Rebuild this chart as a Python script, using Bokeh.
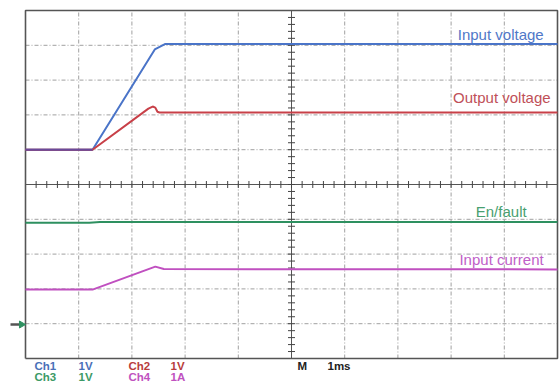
from bokeh.plotting import figure
from bokeh.models import Range1d
from bokeh.core.properties import value
from bokeh.embed import file_html
from bokeh.resources import INLINE

# ---- data (in screen divisions: x 0..10, y 0..10) ----
t_in = [0, 1.26, 2.43, 2.63, 10]
v_in = [6.0, 6.0, 8.88, 9.04, 9.04]

t_out = [0, 1.26, 2.31, 2.39, 2.44, 2.48, 2.52, 10]
v_out = [6.0, 6.0, 7.18, 7.24, 7.21, 7.09, 7.07, 7.07]

t_en = [0, 1.2, 1.4, 10]
v_en = [3.90, 3.90, 3.92, 3.92]

t_cur = [0, 1.26, 2.44, 2.6, 10]
v_cur = [1.98, 1.98, 2.64, 2.57, 2.56]

trace_names = ["Input voltage", "Output voltage", "En/fault", "Input current"]
name_x = [9.74, 9.87, 9.42, 9.74]
name_y = [9.31, 7.50, 4.22, 2.84]
name_colors = ["#5078c8", "#c05058", "#48a070", "#c060c8"]

ch_labels = ["Ch1", "1V", "Ch2", "1V", "Ch3", "1V", "Ch4", "1A", "M", "1ms"]
ch_colors = ["#4a70b8", "#4a70b8", "#b83c3c", "#b83c3c", "#3d9a66", "#3d9a66",
             "#c052c0", "#c052c0", "#222222", "#222222"]

DX = 53.2   # px per horizontal division
DY = 34.8   # px per vertical division
X0 = 25     # left frame px
Y0 = 358    # bottom frame px (from top)

def px_x(px):
    return (px - X0) / DX

def px_y(py):
    return (Y0 - py) / DY

p = figure(width=560, height=383, output_backend="svg", toolbar_location=None,
           x_range=Range1d(px_x(0), px_x(560)), y_range=Range1d(px_y(383), px_y(0)),
           x_axis_type=None, y_axis_type=None, min_border=0,
           outline_line_color=None, background_fill_color="white",
           border_fill_color="white")

# grid
grid_col = "#a0a0a0"
for i in range(1, 10):
    if i == 5:
        continue
    p.line([i, i], [0, 10], line_color=grid_col, line_width=1, line_dash="4 2 1 2")
    p.line([0, 10], [i, i], line_color=grid_col, line_width=1, line_dash="4 2 1 2")

# center cross with ticks
p.line([5, 5], [0, 10], line_color="#555555", line_width=1)
p.line([0, 10], [5, 5], line_color="#555555", line_width=1)
ks = [0.2 * k for k in range(1, 50)]
hx = 3.5 / DX
hy = 3.5 / DY
p.segment(x0=ks, y0=[5 - hy] * len(ks), x1=ks, y1=[5 + hy] * len(ks),
          line_color="#444444", line_width=1)
p.segment(x0=[5 - hx] * len(ks), y0=ks, x1=[5 + hx] * len(ks), y1=ks,
          line_color="#444444", line_width=1)

# frame
p.line([0, 10, 10, 0, 0], [0, 0, 10, 10, 0], line_color="#555555", line_width=1.6)

# traces
p.line(t_en, v_en, line_color="#2e9060", line_width=2)
p.line(t_cur, v_cur, line_color="#c050c0", line_width=2)
p.line(t_in, v_in, line_color="#4a74c8", line_width=2)
p.line(t_out, v_out, line_color="#c84048", line_width=2)
p.line([0, 1.26], [6.0, 6.0], line_color="#6a4a9a", line_width=2)

# ground marker
p.line([px_x(10), px_x(22)], [px_y(324), px_y(324)], line_color="#555555", line_width=2.5)
p.scatter([px_x(21)], [px_y(324)], marker="triangle", angle=-1.5708, size=7,
          fill_color="#2e9060", line_color="#2e9060")

# trace names
p.text(x=name_x, y=name_y, text=trace_names, text_color=name_colors,
       text_align="right", text_baseline="middle",
       text_font=value("Liberation Sans"), text_font_size=value("15px"))

# bottom channel labels
lx = [px_x(v) for v in [34, 78, 128, 170, 34, 78, 128, 170, 297, 327]]
ly = [px_y(v) for v in [365, 365, 365, 365, 376.5, 376.5, 376.5, 376.5, 365, 365]]
p.text(x=lx, y=ly, text=ch_labels, text_color=ch_colors,
       text_align="left", text_baseline="middle", text_font_style="bold",
       text_font=value("Liberation Sans"), text_font_size=value("11.5px"))

open("out.html", "w").write(file_html(p, INLINE))
